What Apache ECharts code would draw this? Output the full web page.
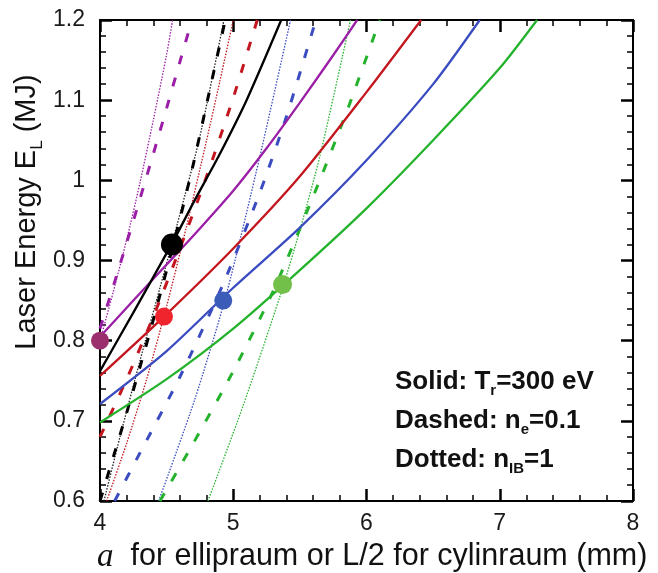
<!DOCTYPE html>
<html>
<head>
<meta charset="utf-8">
<script src="https://cdn.jsdelivr.net/npm/echarts@6/dist/echarts.min.js"></script>
<style>
  html, body { margin: 0; padding: 0; background: #fff; }
  #chart { width: 658px; height: 573px; }
</style>
</head>
<body>
<div id="chart"></div>
<script>
// Axis ranges and tick labels
const xTicks = ['4', '5', '6', '7', '8'];
const yTicks = ['0.6', '0.7', '0.8', '0.9', '1', '1.1', '1.2'];

// Solid curves: Tr = 300 eV  ([a (mm), E_L (MJ)])
const solidPurple = [[4.0,0.805],[4.25,0.85],[4.5,0.895],[4.75,0.94],[5.0,0.987],[5.25,1.04],[5.5,1.097],[5.75,1.156],[5.93,1.2]];
const solidBlack  = [[4.0,0.762],[4.25,0.835],[4.54,0.921],[4.71,0.975],[4.89,1.03],[5.1,1.1],[5.36,1.2]];
const solidRed    = [[4.0,0.756],[4.48,0.83],[5.0,0.915],[5.5,1.005],[6.0,1.11],[6.41,1.2]];
const solidBlue   = [[4.0,0.721],[4.5,0.787],[5.0,0.866],[5.5,0.941],[6.0,1.025],[6.5,1.12],[6.85,1.2]];
const solidGreen  = [[4.0,0.698],[4.5,0.752],[5.0,0.815],[5.5,0.888],[6.0,0.965],[6.5,1.05],[7.0,1.14],[7.28,1.2]];

// Dashed curves: ne = 0.1
const dashPurple = [[4.0,0.815],[4.1,0.868],[4.2,0.922],[4.3,0.977],[4.4,1.033],[4.5,1.09],[4.6,1.148],[4.69,1.2]];
const dashBlack  = [[4.0,0.6],[4.1,0.655],[4.2,0.71],[4.3,0.767],[4.4,0.826],[4.5,0.888],[4.6,0.952],[4.7,1.02],[4.8,1.095],[4.94,1.2]];
const dashRed    = [[4.0,0.68],[4.2,0.752],[4.4,0.83],[4.6,0.915],[4.8,1.005],[5.0,1.103],[5.18,1.2]];
const dashBlue   = [[4.11,0.6],[4.3,0.66],[4.6,0.755],[4.925,0.871],[5.2,0.985],[5.4,1.08],[5.62,1.2]];
const dashGreen  = [[4.45,0.6],[4.7,0.672],[5.0,0.762],[5.3,0.862],[5.6,0.98],[5.85,1.085],[6.1,1.2]];

// Dotted curves: nIB = 1
const dotPurple = [[4.0,0.80],[4.1,0.861],[4.2,0.926],[4.3,0.997],[4.4,1.075],[4.5,1.157],[4.545,1.2]];
const dotBlack  = [[4.03,0.6],[4.15,0.68],[4.3,0.775],[4.45,0.866],[4.6,0.958],[4.75,1.055],[4.93,1.2]];
const dotRed    = [[4.05,0.6],[4.2,0.672],[4.35,0.752],[4.5,0.843],[4.65,0.943],[4.8,1.05],[4.9,1.124],[5.0,1.2]];
const dotBlue   = [[4.44,0.6],[4.71,0.726],[4.95,0.859],[5.2,1.03],[5.43,1.2]];
const dotGreen  = [[4.81,0.6],[5.07,0.717],[5.35,0.855],[5.5,0.938],[5.65,1.03],[5.88,1.2]];

// Design points (solid / dotted crossings)
const designPoints = [
  { value: [4.0, 0.80],  color: '#9b2f6e', size: 18 },
  { value: [4.54, 0.92], color: '#000000', size: 22 },
  { value: [4.48, 0.83], color: '#f0242c', size: 18 },
  { value: [4.925, 0.85], color: '#3b5cb8', size: 18 },
  { value: [5.37, 0.87], color: '#72c04a', size: 19 }
];

const colors = {
  purple: '#9a1fa6',
  black: '#000000',
  red: '#c3161f',
  blue: '#3a4cc0',
  green: '#25b22c'
};

function solid(data, color) {
  return { type: 'line', data, smooth: 0.25, showSymbol: false, symbol: 'none',
    lineStyle: { color, width: 2.3, type: 'solid' }, z: 3 };
}
function dashed(data, color) {
  return { type: 'line', data, smooth: 0.25, showSymbol: false, symbol: 'none',
    lineStyle: { color, width: 3, type: [9, 14] }, z: 2 };
}
function dotted(data, color) {
  return { type: 'line', data, smooth: 0.25, showSymbol: false, symbol: 'none',
    lineStyle: { color, width: 1.3, type: [1.5, 1.5] }, z: 2 };
}

const sans = 'Liberation Sans, Arial, sans-serif';
const tickFont = { fontSize: 23, color: '#1a1a1a', fontFamily: sans };

function xAxisDef(pos, showLabel) {
  return {
    type: 'value', min: 4, max: 8, interval: 1, position: pos,
    axisLine: { show: true, onZero: false, lineStyle: { color: '#000', width: 2 } },
    axisTick: { show: true, inside: true, length: 12, lineStyle: { color: '#000', width: 2.5 } },
    minorTick: { show: true, splitNumber: 5, length: 6, lineStyle: { color: '#000', width: 1.5 } },
    splitLine: { show: false },
    axisLabel: Object.assign({ show: showLabel, margin: 11,
      formatter: v => xTicks[Math.round(v - 4)] }, tickFont)
  };
}
function yAxisDef(pos, showLabel) {
  return {
    type: 'value', min: 0.6, max: 1.2, interval: 0.1, position: pos,
    axisLine: { show: true, onZero: false, lineStyle: { color: '#000', width: 2 } },
    axisTick: { show: true, inside: true, length: 12, lineStyle: { color: '#000', width: 2.5 } },
    minorTick: { show: true, splitNumber: 5, length: 6, lineStyle: { color: '#000', width: 1.5 } },
    splitLine: { show: false },
    axisLabel: Object.assign({ show: showLabel, margin: 15,
      formatter: v => yTicks[Math.round((v - 0.6) * 10)] }, tickFont)
  };
}

function noteStyle(text) {
  return {
    text, align: 'left', verticalAlign: 'middle',
    rich: {
      b: { fontSize: 26, fontWeight: 'bold', fontFamily: sans, fill: '#111', lineHeight: 32 },
      s: { fontSize: 15, fontWeight: 'bold', fontFamily: sans, fill: '#111', lineHeight: 14, verticalAlign: 'bottom' }
    }
  };
}

const chart = echarts.init(document.getElementById('chart'), null, { renderer: 'canvas' });

chart.setOption({
  animation: false,
  backgroundColor: '#ffffff',
  grid: { left: 100, top: 20, right: 25, bottom: 72, containLabel: false },
  xAxis: [xAxisDef('bottom', true), xAxisDef('top', false)],
  yAxis: [yAxisDef('left', true), yAxisDef('right', false)],
  series: [
    dotted(dotPurple, colors.purple),
    dotted(dotBlack, '#222'),
    dotted(dotRed, colors.red),
    dotted(dotBlue, colors.blue),
    dotted(dotGreen, colors.green),
    dashed(dashPurple, colors.purple),
    dashed(dashBlack, colors.black),
    dashed(dashRed, colors.red),
    dashed(dashBlue, colors.blue),
    dashed(dashGreen, colors.green),
    solid(solidPurple, colors.purple),
    solid(solidBlack, colors.black),
    solid(solidRed, colors.red),
    solid(solidBlue, colors.blue),
    solid(solidGreen, colors.green),
    {
      type: 'scatter', clip: false, z: 5,
      data: designPoints.map(p => ({ value: p.value, symbolSize: p.size,
        itemStyle: { color: p.color, opacity: 1 } }))
    }
  ],
  graphic: [
    {
      type: 'text', x: 27, y: 212, rotation: Math.PI / 2,
      style: {
        text: '{n|Laser Energy E}{s|L}{n| (MJ)}',
        align: 'center', verticalAlign: 'middle',
        rich: {
          n: { fontSize: 29, fontFamily: sans, fill: '#111', lineHeight: 38 },
          s: { fontSize: 17, fontFamily: sans, fill: '#111', lineHeight: 17, verticalAlign: 'bottom' }
        }
      }
    },
    {
      type: 'text', x: 97, y: 557,
      style: {
        text: '{i|a}{n|  for ellipraum or L/2 for cylinraum (mm)}',
        align: 'left', verticalAlign: 'middle',
        rich: {
          i: { fontSize: 33, fontStyle: 'italic', fontFamily: 'Liberation Serif, Times New Roman, serif', fill: '#111' },
          n: { fontSize: 30.5, fontFamily: sans, fill: '#111' }
        }
      }
    },
    { type: 'text', x: 395, y: 382, style: noteStyle('{b|Solid: T}{s|r}{b|=300 eV}') },
    { type: 'text', x: 395, y: 421, style: noteStyle('{b|Dashed: n}{s|e}{b|=0.1}') },
    { type: 'text', x: 395, y: 460, style: noteStyle('{b|Dotted: n}{s|IB}{b|=1}') }
  ]
});
</script>
</body>
</html>
